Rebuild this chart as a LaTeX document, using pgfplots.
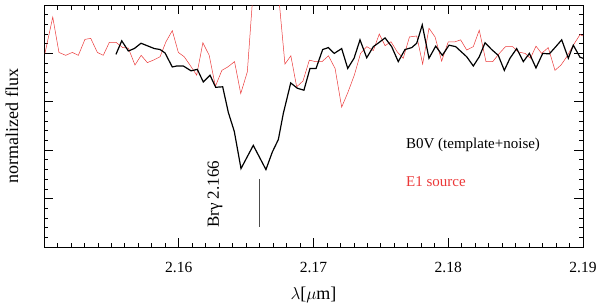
\documentclass[border=0pt]{standalone}
\usepackage{pgfplots}
\pgfplotsset{compat=1.18}
\usepackage{fontspec}
\setmainfont{Liberation Serif}
\usetikzlibrary{calc}
\definecolor{specred}{rgb}{0.92,0.22,0.22}
\begin{document}
\fontsize{15bp}{18bp}\selectfont
\begin{tikzpicture}
\begin{axis}[
  name=ax,
  scale only axis,
  width=539bp, height=242bp,
  xmin=2.15, xmax=2.19,
  ymin=0.6, ymax=1.1,
  xtick={2.15,2.16,2.17,2.18,2.19},
  xticklabels={,2.16,2.17,2.18,2.19},
  minor x tick num=9,
  ytick={0.6,0.7,0.8,0.9,1.0,1.1},
  yticklabels={},
  minor y tick num=4,
  tick align=inside,
  major tick length=9bp,
  minor tick length=4.5bp,
  tick style={black, line width=0.8pt},
  axis line style={line width=1pt},
  xticklabel style={yshift=-10bp, font=\fontsize{15.5bp}{18bp}\selectfont},
  /pgf/number format/assume math mode=true,
  xlabel={$\lambda$[$\mu$m]},
  ylabel={normalized flux},
  xlabel style={at={(axis description cs:0.5,-0.198)}, anchor=center, font=\fontsize{18bp}{20bp}\selectfont},
  ylabel style={at={(axis description cs:-0.0594,0.5)}, anchor=center, font=\fontsize{18bp}{20bp}\selectfont},
]
\addplot[specred, line width=0.5pt] coordinates {
(2.15007,1.000) (2.15065,1.075) (2.15111,1.002) (2.15161,0.996) (2.15210,1.002)
(2.15255,0.996) (2.15304,1.029) (2.15347,1.031) (2.15396,1.002) (2.15440,0.996)
(2.15485,1.023) (2.15534,1.023) (2.15584,1.012) (2.15626,1.011) (2.15675,0.976)
(2.15721,0.996) (2.15767,0.981) (2.15811,0.986) (2.15861,0.993) (2.15905,1.024)
(2.15952,1.047) (2.15997,1.002) (2.16041,0.993) (2.16083,0.976) (2.16133,0.955)
(2.16179,1.022) (2.16226,0.996) (2.16272,0.932) (2.16320,0.965) (2.16364,0.972)
(2.16414,0.983) (2.16460,0.917) (2.16509,0.962) (2.16555,1.14) (2.16601,1.25)
(2.16648,1.30) (2.16694,1.22) (2.16741,1.12) (2.16788,0.978) (2.16832,0.995)
(2.16875,0.931) (2.16922,0.943) (2.16969,0.986) (2.17015,0.983) (2.17063,0.983)
(2.17111,0.995) (2.17160,0.969) (2.17209,0.889) (2.17256,0.920) (2.17304,0.956)
(2.17349,1.000) (2.17395,1.014) (2.17444,1.006) (2.17488,1.040) (2.17531,1.016)
(2.17575,1.024) (2.17622,1.003) (2.17666,0.990) (2.17712,1.034) (2.17766,1.036)
(2.17810,0.978) (2.17857,1.052) (2.17902,1.034) (2.17951,0.984) (2.18000,1.024)
(2.18050,1.024) (2.18092,1.028) (2.18137,1.007) (2.18186,1.014) (2.18230,1.048)
(2.18280,0.983) (2.18330,0.983) (2.18379,1.000) (2.18425,1.014) (2.18478,1.014)
(2.18520,1.003) (2.18570,1.000) (2.18610,0.990) (2.18651,1.015) (2.18693,1.000)
(2.18742,1.012) (2.18792,0.965) (2.18837,0.976) (2.18879,0.993) (2.18928,1.017)
(2.18978,1.039) (2.19000,1.036)
};
\addplot[black, line width=1.2pt] coordinates {
(2.15534,0.998) (2.15577,1.026) (2.15626,1.005) (2.15670,1.010) (2.15720,1.021)
(2.15774,1.015) (2.15819,1.010) (2.15861,1.008) (2.15898,1.001) (2.15952,0.972)
(2.15985,0.974) (2.16034,0.974) (2.16091,0.964) (2.16138,0.967) (2.16182,0.941)
(2.16232,0.955) (2.16274,0.930) (2.16326,0.931) (2.16368,0.878) (2.16412,0.839)
(2.16462,0.762) (2.16553,0.810) (2.16647,0.760) (2.16694,0.796) (2.16739,0.822)
(2.16776,0.876) (2.16831,0.939) (2.16880,0.928) (2.16929,0.924) (2.16974,0.969)
(2.17019,0.969) (2.17068,1.008) (2.17110,1.012) (2.17154,1.000) (2.17209,1.010)
(2.17254,0.969) (2.17301,0.990) (2.17345,1.028) (2.17395,0.991) (2.17444,1.014)
(2.17479,1.021) (2.17531,1.032) (2.17580,1.014) (2.17629,0.983) (2.17679,1.008)
(2.17729,1.012) (2.17766,1.021) (2.17807,1.059) (2.17857,0.990) (2.17907,1.015)
(2.17956,0.996) (2.18006,1.017) (2.18055,1.014) (2.18137,0.993) (2.18186,0.974)
(2.18230,0.993) (2.18273,1.022) (2.18322,1.008) (2.18371,0.996) (2.18416,0.965)
(2.18458,0.990) (2.18508,1.010) (2.18557,0.983) (2.18602,1.000) (2.18651,0.970)
(2.18701,1.000) (2.18750,0.999) (2.18792,1.012) (2.18842,1.028) (2.18891,0.990)
(2.18928,1.017) (2.18978,0.992) (2.19000,0.990)
};
\addplot[black!70, line width=0.4pt] coordinates {(2.166,0.741) (2.166,0.641)};
\node[rotate=90, anchor=center, font=\fontsize{17bp}{20bp}\selectfont] at (axis cs:2.16269,0.709) {Brγ 2.166};
\node[anchor=west, inner sep=0pt] at (axis cs:2.17686,0.810) {B0V (template+noise)};
\node[anchor=west, inner sep=0pt, text=specred] at (axis cs:2.17686,0.736) {E1 source};
\end{axis}
\pgfresetboundingbox
\path ($(ax.south west)+(-44bp,-59bp)$) rectangle ($(ax.north east)+(17bp,5bp)$);
\end{tikzpicture}
\end{document}
